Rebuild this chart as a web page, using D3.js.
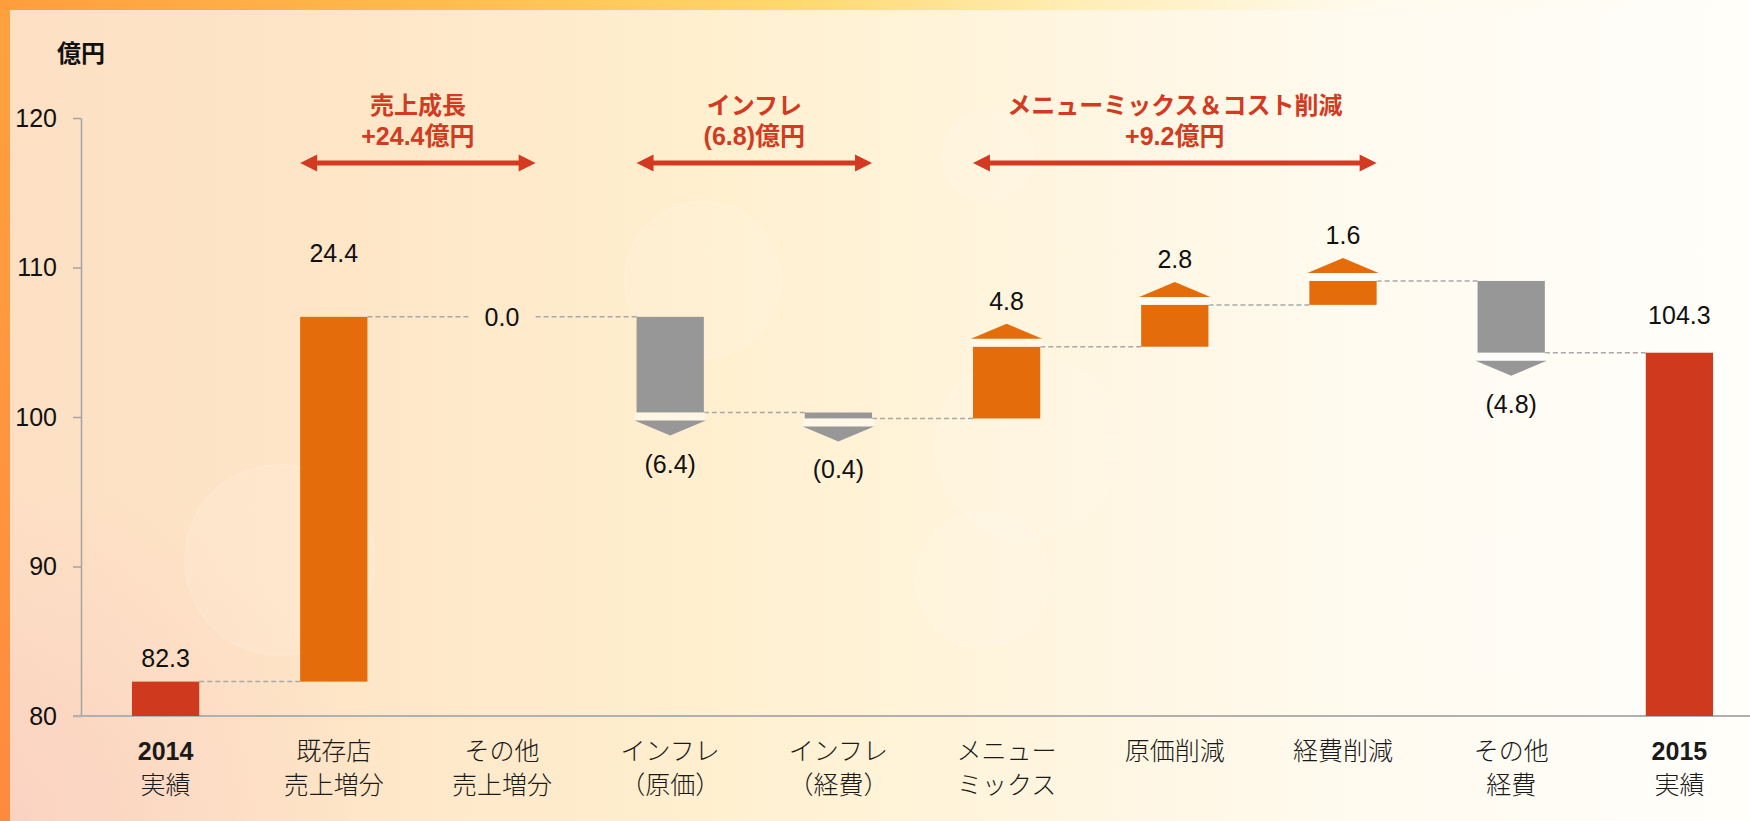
<!DOCTYPE html>
<html>
<head>
<meta charset="utf-8">
<script src="https://cdn.jsdelivr.net/npm/d3@7"></script>
<style>
  html, body { margin: 0; padding: 0; background: #fff; }
  svg { display: block; }
</style>
</head>
<body>
<svg id="chart" width="1750" height="821"></svg>
<script>
// Operating profit bridge 2014 -> 2015 (億円). Each step is a delta except the two totals.
const categoryLines = [
  ["2014", "実績"], ["既存店", "売上増分"], ["その他", "売上増分"],
  ["インフレ", "（原価）"], ["インフレ", "（経費）"], ["メニュー", "ミックス"],
  ["原価削減"], ["経費削減"], ["その他", "経費"], ["2015", "実績"]
];
const deltas = [82.3, 24.4, 0.0, -6.4, -0.4, 4.8, 2.8, 1.6, -4.8, 104.3];
const barKinds = ["total", "up", "up", "down", "down", "up", "up", "up", "down", "total"];
const hasArrowHead = [false, false, false, true, true, true, true, true, true, false];
const valueLabels = ["82.3", "24.4", "0.0", "(6.4)", "(0.4)", "4.8", "2.8", "1.6", "(4.8)", "104.3"];
const yTicks = [80, 90, 100, 110, 120];

const groupTitles = ["売上成長", "インフレ", "メニューミックス＆コスト削減"];
const groupAmounts = ["+24.4億円", "(6.8)億円", "+9.2億円"];
const groupFirst = [1, 3, 5];
const groupLast = [2, 4, 7];

const svg = d3.select("#chart");
const width = +svg.attr("width");
const height = +svg.attr("height");

const latin = "'Liberation Sans', Arial, 'Noto Sans CJK JP', sans-serif";
const cjk = "'Noto Sans CJK JP', 'Liberation Sans', sans-serif";

const colors = { total: "#cf3a1f", up: "#e46c0b", down: "#979797" };
const red = "#d23b22";

// ---- background: orange frame on top/left, warm cream wash fading to white ----
const defs = svg.append("defs");

const topGrad = defs.append("linearGradient").attr("id", "topGrad");
[["0%", "#ff9d3d"], ["25%", "#ffbc4c"], ["45%", "#ffd86c"], ["62%", "#ffeeb8"], ["78%", "#fffaec"], ["100%", "#fffefa"]]
  .forEach(([o, c]) => topGrad.append("stop").attr("offset", o).attr("stop-color", c));

const leftGrad = defs.append("linearGradient").attr("id", "leftGrad")
  .attr("x1", 0).attr("y1", 0).attr("x2", 0).attr("y2", 1);
[["0%", "#ffa23e"], ["100%", "#ff8a3e"]]
  .forEach(([o, c]) => leftGrad.append("stop").attr("offset", o).attr("stop-color", c));

const bgGrad = defs.append("linearGradient").attr("id", "bgGrad");
[["0%", "#fde0c4"], ["20%", "#fee6c7"], ["42%", "#fff0d0"], ["62%", "#fff6e1"], ["80%", "#fffbf1"], ["100%", "#fffefa"]]
  .forEach(([o, c]) => bgGrad.append("stop").attr("offset", o).attr("stop-color", c));

const pinkGlow = defs.append("radialGradient").attr("id", "pinkGlow")
  .attr("cx", 0).attr("cy", 1).attr("r", 0.6);
pinkGlow.append("stop").attr("offset", "0%").attr("stop-color", "#f9c8c0").attr("stop-opacity", 0.6);
pinkGlow.append("stop").attr("offset", "100%").attr("stop-color", "#f9c8c0").attr("stop-opacity", 0);

svg.append("rect").attr("width", width).attr("height", height).attr("fill", "url(#bgGrad)");
svg.append("rect").attr("width", width * 0.35).attr("height", height * 0.7)
  .attr("y", height * 0.3).attr("fill", "url(#pinkGlow)");

// faint bokeh circles (decoration only)
const bokeh = [[703, 280, 78], [988, 156, 45], [1027, 446, 92], [982, 580, 67], [1470, 395, 45],
               [1484, 603, 68], [280, 560, 95]];
svg.append("g").selectAll("circle").data(bokeh).join("circle")
  .attr("cx", d => d[0]).attr("cy", d => d[1]).attr("r", d => d[2])
  .attr("fill", "#ffffff").attr("fill-opacity", 0.09)
  .attr("stroke", "#ffffff").attr("stroke-opacity", 0.14).attr("stroke-width", 2);

svg.append("rect").attr("width", 10).attr("height", height).attr("fill", "url(#leftGrad)");
svg.append("rect").attr("width", width).attr("height", 10).attr("fill", "url(#topGrad)");

// ---- scales ----
const y = d3.scaleLinear().domain([80, 120]).range([716, 118]);
const x = d3.scaleBand()
  .domain(d3.range(deltas.length))
  .range([81.5, 1763.5])
  .paddingInner(0.6)
  .paddingOuter(0.3);
const bw = x.bandwidth();

// running totals for the waterfall
let running = 80;
const steps = deltas.map((v, i) => {
  let start, end;
  if (barKinds[i] === "total") { start = y.domain()[0]; end = v; }
  else { start = running; end = running + v; }
  running = end;
  return { i, v, kind: barKinds[i], start, end, label: valueLabels[i], arrow: hasArrowHead[i] };
});

// ---- axes ----
const yAxis = svg.append("g")
  .attr("transform", "translate(81,0)")
  .call(d3.axisLeft(y).tickValues(yTicks).tickSize(8).tickSizeOuter(0).tickPadding(16));
yAxis.select(".domain").attr("stroke", "#a3a3a3").attr("stroke-width", 1.5);
yAxis.selectAll(".tick line").attr("stroke", "#a3a3a3").attr("stroke-width", 1.5);
yAxis.selectAll(".tick text")
  .attr("font-family", latin).attr("font-size", 25).attr("fill", "#111");

svg.append("line")
  .attr("x1", 73).attr("x2", width)
  .attr("y1", y(80)).attr("y2", y(80))
  .attr("stroke", "#b0b0b0").attr("stroke-width", 2);

svg.append("text")
  .attr("x", 57).attr("y", 62)
  .attr("font-family", cjk).attr("font-size", 24).attr("font-weight", 700)
  .attr("fill", "#111").text("億円");

// ---- connectors ----
svg.append("g").selectAll("line").data(steps.slice(0, -1)).join("line")
  .attr("x1", d => x(d.i) + bw)
  .attr("x2", d => x(d.i + 1))
  .attr("y1", d => y(d.end)).attr("y2", d => y(d.end))
  .attr("stroke", "#a8a8a8").attr("stroke-width", 1.5).attr("stroke-dasharray", "5,3");

// ---- bars ----
svg.append("g").selectAll("rect").data(steps).join("rect")
  .attr("x", d => x(d.i))
  .attr("width", bw)
  .attr("y", d => y(Math.max(d.start, d.end)))
  .attr("height", d => Math.abs(y(d.start) - y(d.end)))
  .attr("fill", d => colors[d.kind]);

// ---- direction arrowheads ----
const headGap = 8, headH = 15;
const arrowSteps = steps.filter(d => d.arrow);
svg.append("g").selectAll("rect").data(arrowSteps).join("rect")
  .attr("x", d => x(d.i) - 2).attr("width", bw + 4)
  .attr("y", d => d.kind === "up" ? y(d.end) - headGap : y(d.end))
  .attr("height", headGap)
  .attr("fill", "#ffffff").attr("fill-opacity", 0.45);

svg.append("g").selectAll("path").data(arrowSteps).join("path")
  .attr("d", d => {
    const dir = d.kind === "up" ? -1 : 1;
    const base = y(d.end) + dir * headGap;
    const apex = base + dir * headH;
    const x0 = x(d.i) - 2, x1 = x(d.i) + bw + 2;
    return `M${x0},${base}L${x1},${base}L${(x0 + x1) / 2},${apex}Z`;
  })
  .attr("fill", d => colors[d.kind]);

// ---- value labels ----
function labelY(d) {
  const top = y(Math.max(d.start, d.end));
  const bottom = y(Math.min(d.start, d.end));
  if (d.kind === "total") return top - (d.i === steps.length - 1 ? 29 : 15);
  if (d.v === 0) return y(d.end) + 9;
  if (d.kind === "up") return d.arrow ? top - headGap - headH - 14 : top - 55;
  return bottom + headGap + headH + 37;
}

svg.append("g").selectAll("text").data(steps).join("text")
  .attr("x", d => x(d.i) + bw / 2)
  .attr("y", labelY)
  .attr("text-anchor", "middle")
  .attr("font-family", latin).attr("font-size", 25)
  .attr("fill", "#111")
  .text(d => d.label);

// ---- category labels ----
const cats = svg.append("g").selectAll("text").data(categoryLines).join("text")
  .attr("x", (d, i) => x(i) + bw / 2)
  .attr("y", 760)
  .attr("text-anchor", "middle")
  .attr("fill", "#1a1a1a");

cats.selectAll("tspan").data((d, i) => d.map((t, k) => ({ t, k, total: barKinds[i] === "total" })))
  .join("tspan")
  .attr("x", function() { return d3.select(this.parentNode).attr("x"); })
  .attr("dy", d => d.k === 0 ? 0 : 34)
  .attr("font-family", d => d.total && d.k === 0 ? latin : cjk)
  .attr("font-weight", d => d.total && d.k === 0 ? 700 : 300)
  .attr("font-size", 25)
  .text(d => d.t);

// ---- group annotations ----
const groups = groupTitles.map((t, g) => ({
  title: t, amount: groupAmounts[g],
  x0: x(groupFirst[g]), x1: x(groupLast[g]) + bw
}));

const ann = svg.append("g").selectAll("g").data(groups).join("g");

ann.append("path")
  .attr("d", d => {
    const yc = 163, t = 2.5, hl = 17, hh = 8.5;
    const a = d.x0, b = d.x1;
    return `M${a},${yc}L${a + hl},${yc - hh}L${a + hl},${yc - t}L${b - hl},${yc - t}L${b - hl},${yc - hh}` +
           `L${b},${yc}L${b - hl},${yc + hh}L${b - hl},${yc + t}L${a + hl},${yc + t}L${a + hl},${yc + hh}Z`;
  })
  .attr("fill", red);

ann.append("text")
  .attr("x", d => (d.x0 + d.x1) / 2).attr("y", 114)
  .attr("text-anchor", "middle")
  .attr("font-family", cjk).attr("font-weight", 700).attr("font-size", 24)
  .attr("fill", red)
  .text(d => d.title);

ann.append("text")
  .attr("x", d => (d.x0 + d.x1) / 2).attr("y", 145)
  .attr("text-anchor", "middle")
  .attr("font-family", latin).attr("font-weight", 700).attr("font-size", 25)
  .attr("fill", red)
  .text(d => d.amount);
</script>
</body>
</html>
